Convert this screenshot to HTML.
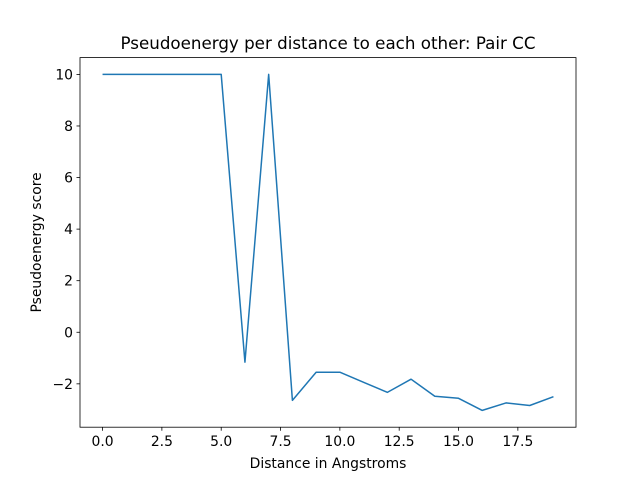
<!DOCTYPE html>
<html><head><meta charset="utf-8"><style>
body{margin:0;background:#fff;}
svg{display:block;font-family:"DejaVu Sans","Liberation Sans",sans-serif;}
</style></head><body>
<svg id="chart" width="640" height="480">
<rect width="640" height="480" fill="#fff"/>
<text x="328" y="49" font-size="16.7" text-anchor="middle">Pseudoenergy per distance to each other: Pair CC</text>
<g id="xt"></g><g id="yt"></g>
<polyline id="line" fill="none" stroke="#1f77b4" stroke-width="1.5" stroke-linejoin="round"/>
<rect x="80" y="57.6" width="496" height="369.6" fill="none" stroke="#000" stroke-width="0.8"/>
<text x="328" y="468" font-size="13.9" text-anchor="middle">Distance in Angstroms</text>
<text transform="translate(41,242.4) rotate(-90)" font-size="13.9" text-anchor="middle">Pseudoenergy score</text>
</svg>
<script>
const distances=[0,1,2,3,4,5,6,7,8,9,10,11,12,13,14,15,16,17,18,19];
const scores=[10,10,10,10,10,10,-1.16,10,-2.64,-1.55,-1.55,-1.94,-2.33,-1.82,-2.48,-2.56,-3.03,-2.74,-2.84,-2.5];
const xTicks=[0,2.5,5,7.5,10,12.5,15,17.5];
const xTickLabels=["0.0","2.5","5.0","7.5","10.0","12.5","15.0","17.5"];
const yTicks=[-2,0,2,4,6,8,10];
const yTickLabels=["−2","0","2","4","6","8","10"];
const L=80,R=576,T=57.6,B=427.2;
const xmin=Math.min(...distances),xmax=Math.max(...distances);
const ymin=Math.min(...scores),ymax=Math.max(...scores);
const xm=(xmax-xmin)*0.05,ym=(ymax-ymin)*0.05;
const sx=v=>L+(v-(xmin-xm))/((xmax+xm)-(xmin-xm))*(R-L);
const sy=v=>B-(v-(ymin-ym))/((ymax+ym)-(ymin-ym))*(B-T);
const NS="http://www.w3.org/2000/svg";
const line=document.getElementById('line');
line.setAttribute('points',distances.map((d,i)=>sx(d)+','+sy(scores[i])).join(' '));
const xt=document.getElementById('xt'),yt=document.getElementById('yt');
xTicks.forEach((v,i)=>{
 const l=document.createElementNS(NS,'line');
 
 
 l.setAttribute('x1',sx(v));l.setAttribute('x2',sx(v));l.setAttribute('y1',B);l.setAttribute('y2',B+3.5);l.setAttribute('stroke','#000');l.setAttribute('stroke-width','0.8');
 xt.appendChild(l);
 const t=document.createElementNS(NS,'text');
 
 
 t.setAttribute('x',sx(v));t.setAttribute('y',B+19);t.setAttribute('font-size','13.9');t.setAttribute('text-anchor','middle');
 t.textContent=xTickLabels[i];xt.appendChild(t);
});
yTicks.forEach((v,i)=>{
 const l=document.createElementNS(NS,'line');
 
 
 l.setAttribute('x1',L-3.5);l.setAttribute('x2',L);l.setAttribute('y1',sy(v));l.setAttribute('y2',sy(v));l.setAttribute('stroke','#000');l.setAttribute('stroke-width','0.8');
 yt.appendChild(l);
 const t=document.createElementNS(NS,'text');
 
 
 t.setAttribute('x',L-7);t.setAttribute('y',sy(v)+5);t.setAttribute('font-size','13.9');t.setAttribute('text-anchor','end');
 t.textContent=yTickLabels[i];yt.appendChild(t);
});
</script>
</body></html>
